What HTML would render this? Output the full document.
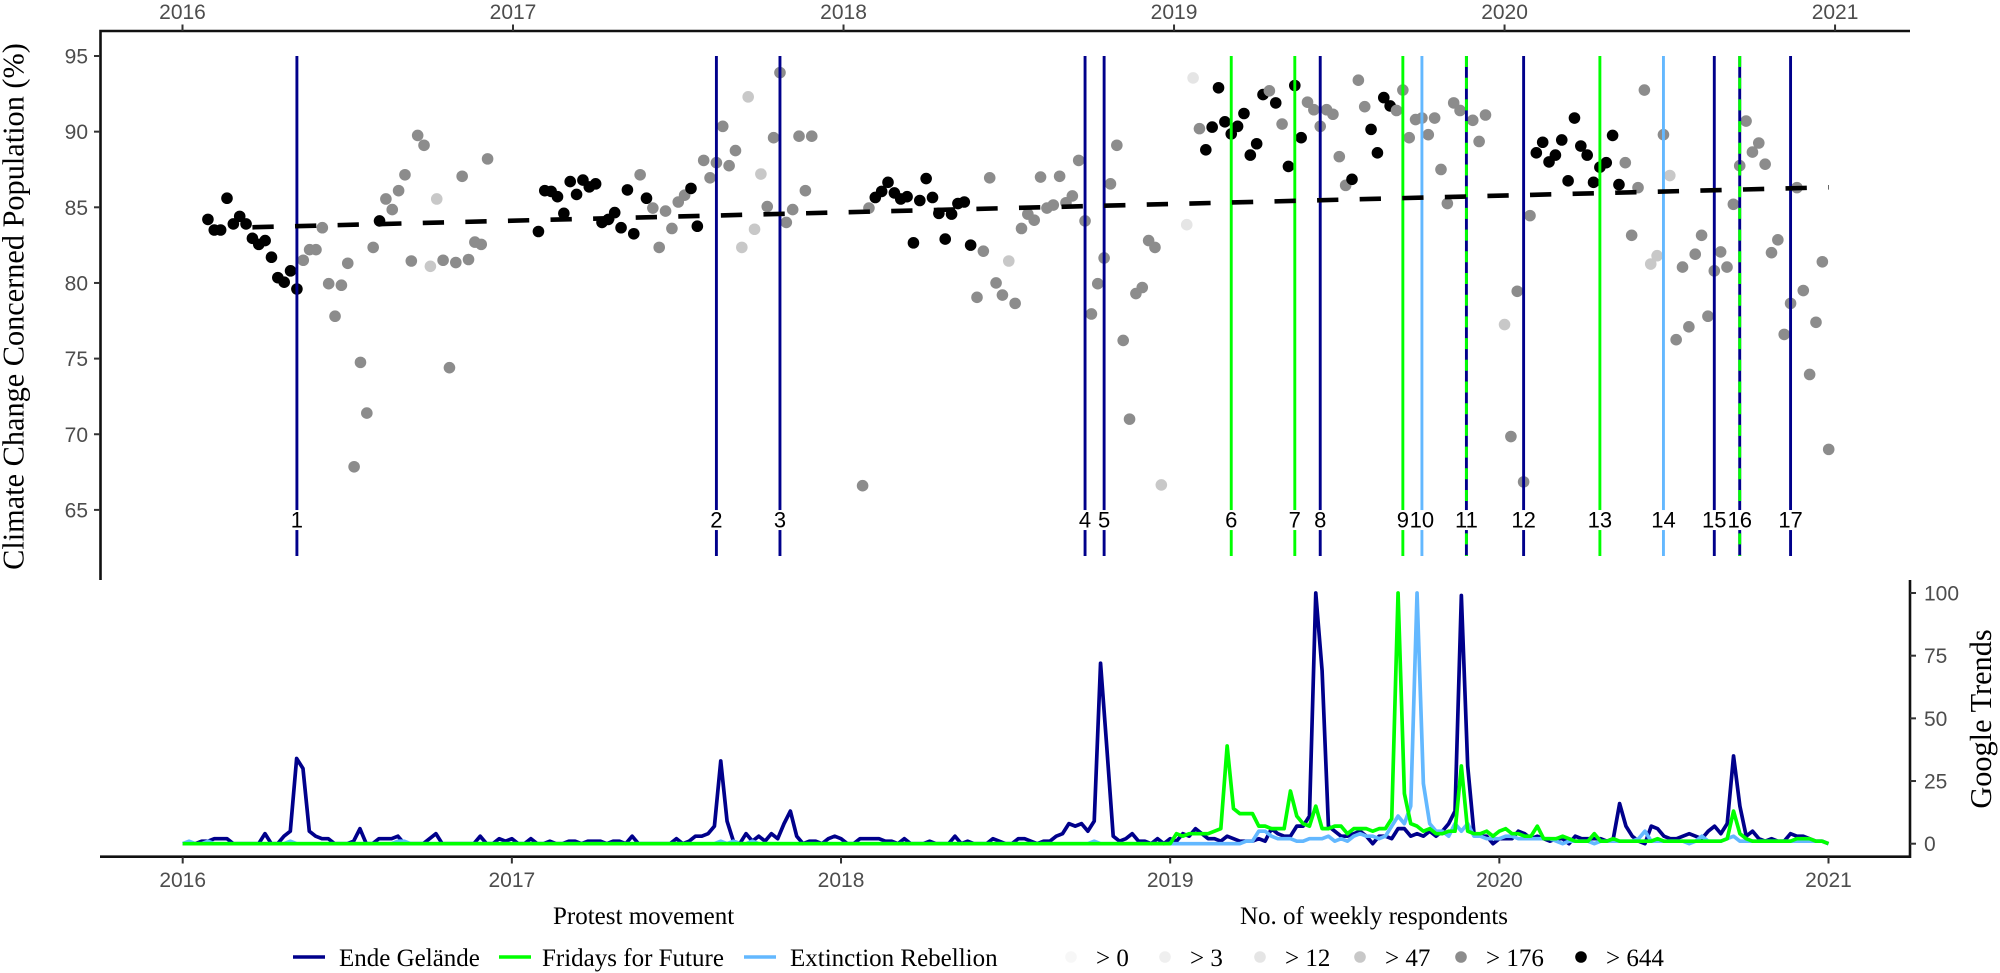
<!DOCTYPE html>
<html lang="en">
<head>
<meta charset="utf-8">
<title>Climate change concern and protest movements</title>
<style>
html,body{margin:0;padding:0;background:#fff;width:2000px;height:973px;overflow:hidden}
svg{display:block}
.tick-label{font-family:"Liberation Sans",sans-serif;font-size:21px;fill:#4d4d4d}
.serif{font-family:"Liberation Serif",serif;font-size:25px;fill:#000}
.axis-title{font-family:"Liberation Serif",serif;font-size:30.3px;fill:#000}
.event-label{font-family:"Liberation Sans",sans-serif;font-size:22px;fill:#000}
</style>
</head>
<body>
<svg id="chart" xmlns="http://www.w3.org/2000/svg" width="2000" height="973" viewBox="0 0 2000 973">
  <g id="points"></g>
  <g id="events"></g>
  <path id="trend" fill="none" stroke="#000" stroke-width="4.6" stroke-dasharray="21.3 21.3"></path>
  <g id="eventLabels"></g>
  <g id="trends"></g>
  <g id="axes">
    <path d="M100.5 580V31H1910" fill="none" stroke="#111" stroke-width="2.6"></path>
    <path d="M100 856.7H1910V580" fill="none" stroke="#111" stroke-width="2.6"></path>
  </g>
  <text class="axis-title" transform="translate(23.5,306.5) rotate(-90)" text-anchor="middle">Climate Change Concerned Population (%)</text>
  <text class="axis-title" transform="translate(1991,719) rotate(-90)" text-anchor="middle">Google Trends</text>
  <text class="serif" x="553" y="924">Protest movement</text>
  <text class="serif" x="1240" y="924">No. of weekly respondents</text>
  <g>
    <line x1="293" x2="325" y1="957" y2="957" stroke="#00008b" stroke-width="3.6"></line>
    <text class="serif" x="339" y="966">Ende Gelände</text>
    <line x1="499" x2="531" y1="957" y2="957" stroke="#00ff00" stroke-width="3.6"></line>
    <text class="serif" x="542" y="966">Fridays for Future</text>
    <line x1="744" x2="776" y1="957" y2="957" stroke="#63b8ff" stroke-width="3.6"></line>
    <text class="serif" x="790" y="966">Extinction Rebellion</text>
  </g>
  <g>
    <circle cx="1071" cy="957" r="5.8" fill="#f7f7f7"></circle>
    <text class="serif" x="1096" y="966">&gt; 0</text>
    <circle cx="1165" cy="957" r="5.8" fill="#efefef"></circle>
    <text class="serif" x="1190" y="966">&gt; 3</text>
    <circle cx="1260" cy="957" r="5.8" fill="#e5e5e5"></circle>
    <text class="serif" x="1285" y="966">&gt; 12</text>
    <circle cx="1360" cy="957" r="5.8" fill="#c8c8c8"></circle>
    <text class="serif" x="1385" y="966">&gt; 47</text>
    <circle cx="1461" cy="957" r="5.8" fill="#8c8c8c"></circle>
    <text class="serif" x="1486" y="966">&gt; 176</text>
    <circle cx="1581" cy="957" r="5.8" fill="#000"></circle>
    <text class="serif" x="1606" y="966">&gt; 644</text>
  </g>
</svg>
<script>
const yearLabels = ['2016','2017','2018','2019','2020','2021'];
const concernTicks = [95,90,85,80,75,70,65];
const trendsTicks = [100,75,50,25,0];

// concerned share per survey week, null where no survey
const surveyValues = [
null,null,null,null,84.2,83.5,83.5,85.6,83.9,84.4,
83.9,82.95,82.55,82.8,81.7,80.35,80.05,80.8,79.6,81.5,
82.2,82.2,83.65,79.95,77.8,79.85,81.3,67.85,74.75,71.4,
82.35,84.1,85.55,84.85,86.1,87.15,81.45,89.75,89.1,81.1,
85.55,81.5,74.4,81.35,87.05,81.55,82.7,82.55,88.2,null,
null,null,null,null,null,null,83.4,86.1,86.05,85.7,
84.6,86.7,85.85,86.8,86.35,86.55,84,84.2,84.65,83.65,
86.15,83.25,87.15,85.6,84.95,82.35,84.75,83.6,85.35,85.8,
86.25,83.75,88.1,86.95,87.95,90.35,87.75,88.75,82.35,92.3,
83.55,87.2,85.05,89.6,93.9,84,84.85,89.7,86.1,89.7,
null,null,null,null,null,null,null,66.6,84.95,85.65,
86.05,86.65,85.95,85.55,85.7,82.65,85.45,86.9,85.65,84.6,
82.9,84.55,85.25,85.35,82.5,79.05,82.1,86.95,80,79.2,
81.45,78.65,83.6,84.55,84.15,87,84.95,85.15,87.05,85.3,
85.75,88.1,84.1,77.95,79.95,81.65,86.55,89.1,76.2,71,
79.3,79.7,82.8,82.35,66.65,null,null,null,83.85,93.55,
90.2,88.8,90.3,92.9,90.65,89.85,90.35,91.2,88.45,89.2,
92.45,92.7,91.9,90.5,87.7,93.05,89.6,91.95,91.45,90.35,
91.45,91.15,88.35,86.45,86.85,93.4,91.65,90.15,88.6,92.25,
91.7,91.4,92.75,89.6,90.8,90.9,89.8,90.9,87.5,85.25,
91.9,91.4,null,90.75,89.35,91.1,null,null,77.25,69.85,
79.45,66.85,84.45,88.6,89.3,88,88.45,89.45,86.75,90.9,
89.05,88.45,86.65,87.65,87.95,89.75,86.5,87.95,83.15,86.3,
92.75,81.25,81.8,89.8,87.1,76.25,81.05,77.1,81.9,83.15,
77.8,80.8,82.05,81.05,85.2,87.75,90.7,88.65,89.25,87.85,
82,82.85,76.6,78.65,86.3,79.5,73.95,77.4,81.4,69];

// respondent bin per week: 2 over 12, 3 over 47, 4 over 176, 5 over 644
const surveyBins = [
0,0,0,0,5,5,5,5,5,5,
5,5,5,5,5,5,5,5,5,4,
4,4,4,4,4,4,4,4,4,4,
4,5,4,4,4,4,4,4,4,3,
3,4,4,4,4,4,4,4,4,0,
0,0,0,0,0,0,5,5,5,5,
5,5,5,5,5,5,5,5,5,5,
5,5,4,5,4,4,4,4,4,4,
5,5,4,4,4,4,4,4,3,3,
3,3,4,4,4,4,4,4,4,4,
0,0,0,0,0,0,0,4,4,5,
5,5,5,5,5,5,5,5,5,5,
5,5,5,5,5,4,4,4,4,4,
3,4,4,4,4,4,4,4,4,4,
4,4,4,4,4,4,4,4,4,4,
4,4,4,4,3,0,0,0,2,2,
4,5,5,5,5,5,5,5,5,5,
5,4,5,4,5,5,5,4,4,4,
4,4,4,4,5,4,4,5,5,5,
5,4,4,4,4,4,4,4,4,4,
4,4,0,4,4,4,0,0,3,4,
4,4,4,5,5,5,5,5,5,5,
5,5,5,5,5,5,5,4,4,4,
4,3,3,4,3,4,4,4,4,4,
4,4,4,4,4,4,4,4,4,4,
4,4,4,4,4,4,4,4,4,4];

const trendWeeks = [11,259];
const trendValues = [83.68,86.32];

const eventWeeks = [18,84,94,142,145,165,175,179,192,195,202,211,223,233,241,245,253];
const eventMovements = ['eg','eg','eg','eg','eg','fff','fff','eg','fff','xr','both','eg','fff','xr','eg','both','eg'];

const endeGelaende = [
0,0,0,1,1,2,2,2,0,0,
0,0,0,4,0,0,3,5,34,30,
5,3,2,2,0,0,0,1,6,0,
0,2,2,2,3,0,0,0,0,2,
4,0,0,0,0,0,0,3,0,0,
2,1,2,0,0,2,0,0,1,0,
0,1,1,0,1,1,1,0,1,1,
0,3,0,0,0,0,0,0,2,0,
1,3,3,4,7,33,9,1,0,4,
1,3,1,4,2,8,13,3,0,1,
1,0,2,3,2,0,0,2,2,2,
2,1,1,0,2,0,0,0,1,0,
0,0,3,0,1,0,0,0,2,1,
0,0,2,2,1,0,1,1,3,4,
8,7,8,5,9,72,38,3,1,2,
4,1,1,0,2,0,2,1,4,3,
6,4,2,2,1,3,2,1,1,1,
2,1,6,4,3,3,7,7,11,100,
69,7,5,3,3,4,5,3,0,3,
3,2,6,6,3,4,3,5,3,5,
8,13,99,31,4,3,3,0,2,2,
2,5,4,2,3,2,1,2,2,0,
3,2,2,2,2,1,2,16,7,3,
1,0,7,6,3,2,2,3,4,3,
2,5,7,4,8,35,15,3,5,2,
1,2,1,1,4,3,3,2,1,1,0];

const extinctionRebellion = [
0,1,0,0,1,0,0,0,0,0,
0,0,0,0,0,0,0,1,0,0,
0,0,0,0,0,0,0,0,0,0,
0,0,0,0,1,1,0,0,0,0,
0,0,0,0,0,0,0,0,0,0,
0,0,0,0,0,0,0,0,0,0,
0,0,0,0,0,0,0,0,0,0,
0,0,0,0,0,0,0,0,0,0,
0,0,0,0,0,1,0,1,0,0,
1,0,0,0,0,0,0,0,0,0,
0,0,0,0,0,0,0,0,0,0,
0,0,0,0,0,0,0,0,0,0,
0,0,0,0,0,0,0,0,0,0,
0,0,0,0,0,0,0,0,0,0,
0,0,0,0,1,0,0,0,0,0,
0,0,0,0,0,0,0,0,0,0,
0,0,0,0,0,0,0,0,1,1,
5,5,3,2,2,2,1,1,2,2,
2,3,1,2,1,3,4,3,3,2,
3,7,11,8,15,100,24,8,5,5,
3,8,5,8,3,3,2,2,2,3,
3,2,2,2,2,2,2,1,0,1,
1,1,1,0,1,1,1,1,1,1,
2,5,1,1,1,1,1,1,0,1,
3,1,1,1,2,3,1,1,1,1,
1,1,1,1,1,1,1,1,1,1,0];

const fridaysForFuture = [
0,0,0,0,0,0,0,0,0,0,
0,0,0,0,0,0,0,0,0,0,
0,0,0,0,0,0,0,0,0,0,
0,0,0,0,0,0,0,0,0,0,
0,0,0,0,0,0,0,0,0,0,
0,0,0,0,0,0,0,0,0,0,
0,0,0,0,0,0,0,0,0,0,
0,0,0,0,0,0,0,0,0,0,
0,0,0,0,0,0,0,0,0,0,
0,0,0,0,0,0,0,0,0,0,
0,0,0,0,0,0,0,0,0,0,
0,0,0,0,0,0,0,0,0,0,
0,0,0,0,0,0,0,0,0,0,
0,0,0,0,0,0,0,0,0,0,
0,0,0,0,0,0,0,0,0,0,
0,0,0,0,0,0,0,4,3,4,
4,4,4,5,6,39,14,12,12,12,
7,7,6,6,6,21,11,8,7,15,
6,6,7,7,4,6,6,6,5,6,
6,10,100,20,8,7,5,6,4,4,
5,5,31,5,4,4,5,3,5,6,
4,4,3,3,7,2,2,2,3,2,
1,1,1,4,1,1,2,1,1,1,
1,1,1,2,1,1,1,1,1,1,
1,1,1,1,2,13,4,2,1,1,
1,1,1,1,1,2,2,2,1,1,0];

const SVG_NS = 'http://www.w3.org/2000/svg';
const WEEKS_PER_YEAR = 52;

const xTop = w => 182.5 + 6.356 * w;
const yTop = v => 56 + (95 - v) * 15.13;
const xBottom = w => 182.7 + 6.33 * w;
const yBottom = v => 843.7 - v * 2.507;

const binColors = {2:'#e5e5e5',3:'#c8c8c8',4:'#8c8c8c',5:'#000000'};
const movementColors = {eg:'#00008b',fff:'#00ff00',xr:'#63b8ff'};

function make(tag, attrs, parent) {
  const el = document.createElementNS(SVG_NS, tag);
  for (const k in attrs) el.setAttribute(k, attrs[k]);
  parent.appendChild(el);
  return el;
}

const pointsLayer = document.getElementById('points');
surveyValues.forEach((v, w) => {
  if (v === null) return;
  const el = make('circle', {cx: xTop(w), cy: yTop(v), r: 5.8, fill: binColors[surveyBins[w]]}, pointsLayer);
  
  
});

const eventsLayer = document.getElementById('events');
const labelsLayer = document.getElementById('eventLabels');
const EVENT_TOP = 95, EVENT_BOTTOM = 61.95, EVENT_LABEL = 64.33;
eventWeeks.forEach((w, i) => {
  const kind = eventMovements[i];
  const x = xTop(w);
  const base = make('line', {x1: x, x2: x, y1: yTop(EVENT_TOP), y2: yTop(EVENT_BOTTOM), stroke: kind === 'both' ? movementColors.eg : movementColors[kind], 'stroke-width': 2.9}, eventsLayer);
  
  
  if (kind === 'both') {
    const over = make('line', {x1: x, x2: x, y1: yTop(EVENT_TOP), y2: yTop(EVENT_BOTTOM), stroke: movementColors.fff, 'stroke-width': 2.9, 'stroke-dasharray': '11 10.7'}, eventsLayer);
    
    
  }
  const label = String(i + 1);
  const bgWidth = label.length * 12.2 + 2;
  const bg = make('rect', {x: x - bgWidth / 2, y: yTop(EVENT_LABEL) - 10, width: bgWidth, height: 20, fill: '#fff'}, labelsLayer);
  
  
});
eventWeeks.forEach((w, i) => {
  const t = make('text', {x: xTop(w), y: yTop(EVENT_LABEL) + 7.5, 'text-anchor': 'middle', class: 'event-label'}, labelsLayer);
  t.textContent = String(i + 1);
  
  
});

document.getElementById('trend').setAttribute('d',
  'M' + xTop(trendWeeks[0]) + ' ' + yTop(trendValues[0]) + 'L' + xTop(trendWeeks[1]) + ' ' + yTop(trendValues[1]));

const trendsLayer = document.getElementById('trends');
function drawSeries(values, color, name) {
  const d = values.map((v, w) => (w ? 'L' : 'M') + xBottom(w).toFixed(2) + ' ' + yBottom(v).toFixed(2)).join('');
  const el = make('path', {d: d, fill: 'none', stroke: color, 'stroke-width': 3.7, 'stroke-linejoin': 'round'}, trendsLayer);
  
  
}
drawSeries(endeGelaende, movementColors.eg, 'series-ende-gelaende');
drawSeries(extinctionRebellion, movementColors.xr, 'series-extinction-rebellion');
drawSeries(fridaysForFuture, movementColors.fff, 'series-fridays-for-future');

const axesLayer = document.getElementById('axes');
yearLabels.forEach((label, i) => {
  const wk = i * WEEKS_PER_YEAR;
  const topX = xTop(wk);
  const tt = make('line', {x1: topX, x2: topX, y1: 24.5, y2: 31, stroke: '#333', 'stroke-width': 2}, axesLayer);
  
  
  const tl = make('text', {x: topX, y: 19, 'text-anchor': 'middle', class: 'tick-label'}, axesLayer);
  tl.textContent = label;
  
  
  const botX = xBottom(wk);
  const bt = make('line', {x1: botX, x2: botX, y1: 857, y2: 863.5, stroke: '#333', 'stroke-width': 2}, axesLayer);
  
  
  const bl = make('text', {x: botX, y: 887, 'text-anchor': 'middle', class: 'tick-label'}, axesLayer);
  bl.textContent = label;
  
  
});
concernTicks.forEach(v => {
  const y = yTop(v);
  const t = make('line', {x1: 94, x2: 100, y1: y, y2: y, stroke: '#333', 'stroke-width': 2}, axesLayer);
  
  
  const l = make('text', {x: 88, y: y + 7.5, 'text-anchor': 'end', class: 'tick-label'}, axesLayer);
  l.textContent = String(v);
  
  
});
trendsTicks.forEach(v => {
  const y = yBottom(v);
  const t = make('line', {x1: 1910, x2: 1916, y1: y, y2: y, stroke: '#333', 'stroke-width': 2}, axesLayer);
  
  
  const l = make('text', {x: 1924, y: y + 7.5, class: 'tick-label'}, axesLayer);
  l.textContent = String(v);
  
  
});
</script>
</body>
</html>
